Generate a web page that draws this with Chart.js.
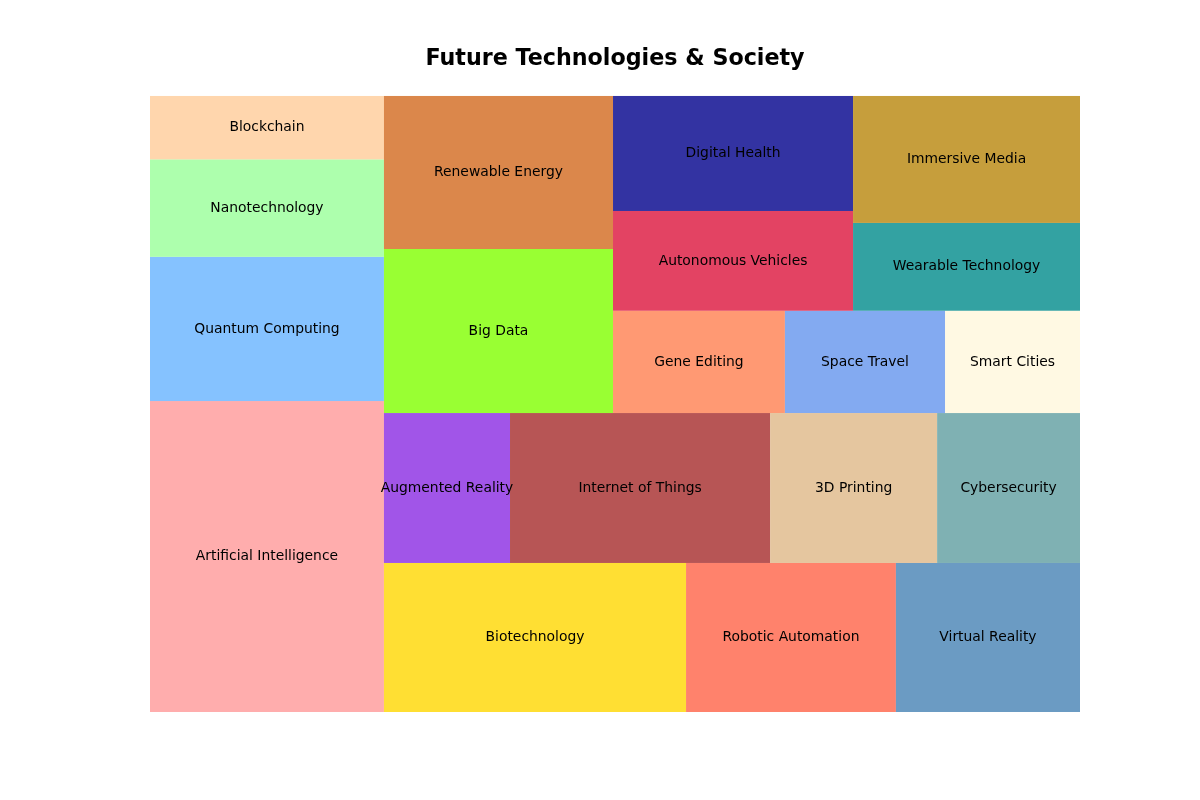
<!DOCTYPE html>
<html>
<head>
<meta charset="utf-8">
<script src="https://cdn.jsdelivr.net/npm/chart.js@4/dist/chart.umd.min.js"></script>
<style>
  html, body { margin: 0; padding: 0; background: #ffffff; }
  #wrap { width: 1200px; height: 800px; }
</style>
</head>
<body>
<div id="wrap"><canvas id="c" width="1200" height="800"></canvas></div>
<script>
// ---- Data (order as drawn by the squarify layout) ----
const categories = [
  "Artificial Intelligence", "Quantum Computing", "Nanotechnology", "Blockchain",
  "Biotechnology", "Robotic Automation", "Virtual Reality",
  "Augmented Reality", "Internet of Things", "3D Printing", "Cybersecurity",
  "Big Data", "Renewable Energy",
  "Gene Editing", "Space Travel", "Smart Cities",
  "Autonomous Vehicles", "Digital Health",
  "Wearable Technology", "Immersive Media"
];
const values = [
  12.70, 5.89, 3.98, 2.59,
  7.86, 5.46, 4.79,
  3.30, 6.81, 4.37, 3.74,
  6.56, 6.12,
  3.07, 2.86, 2.41,
  4.18, 4.82,
  3.48, 5.03
];
const baseColors = [
  "#FF9999", "#66B3FF", "#99FF99", "#FFCC99",
  "#FFD700", "#FF6347", "#4682B4",
  "#8A2BE2", "#A52A2A", "#DEB887", "#5F9EA0",
  "#7FFF00", "#D2691E",
  "#FF7F50", "#6495ED", "#FFF8DC",
  "#DC143C", "#00008B",
  "#008B8B", "#B8860B"
];
const fillAlpha = 0.8;
const chartTitle = "Future Technologies & Society";

// ---- squarify (same algorithm as the python 'squarify' package) ----
function normalizeSizes(sizes, dx, dy) {
  const total = sizes.reduce((a, b) => a + b, 0);
  return sizes.map(s => s * dx * dy / total);
}
function layoutrow(sizes, x, y, dx, dy) {
  const covered = sizes.reduce((a, b) => a + b, 0);
  const width = covered / dy;
  const rects = [];
  for (const s of sizes) { rects.push({x: x, y: y, dx: width, dy: s / width}); y += s / width; }
  return rects;
}
function layoutcol(sizes, x, y, dx, dy) {
  const covered = sizes.reduce((a, b) => a + b, 0);
  const height = covered / dx;
  const rects = [];
  for (const s of sizes) { rects.push({x: x, y: y, dx: s / height, dy: height}); x += s / height; }
  return rects;
}
function layout(sizes, x, y, dx, dy) {
  return dx >= dy ? layoutrow(sizes, x, y, dx, dy) : layoutcol(sizes, x, y, dx, dy);
}
function leftover(sizes, x, y, dx, dy) {
  const covered = sizes.reduce((a, b) => a + b, 0);
  if (dx >= dy) { const w = covered / dy; return [x + w, y, dx - w, dy]; }
  const h = covered / dx; return [x, y + h, dx, dy - h];
}
function worstRatio(sizes, x, y, dx, dy) {
  return Math.max(...layout(sizes, x, y, dx, dy).map(r => Math.max(r.dx / r.dy, r.dy / r.dx)));
}
function squarify(sizes, x, y, dx, dy) {
  if (sizes.length === 0) return [];
  if (sizes.length === 1) return layout(sizes, x, y, dx, dy);
  let i = 1;
  while (i < sizes.length && worstRatio(sizes.slice(0, i), x, y, dx, dy) >= worstRatio(sizes.slice(0, i + 1), x, y, dx, dy)) i++;
  const current = sizes.slice(0, i), remaining = sizes.slice(i);
  const [lx, ly, ldx, ldy] = leftover(current, x, y, dx, dy);
  return layout(current, x, y, dx, dy).concat(squarify(remaining, lx, ly, ldx, ldy));
}

const NORM = 100;
const rects = squarify(normalizeSizes(values, NORM, NORM), 0, 0, NORM, NORM);

function withAlpha(hex, a) {
  const r = parseInt(hex.slice(1, 3), 16), g = parseInt(hex.slice(3, 5), 16), b = parseInt(hex.slice(5, 7), 16);
  return `rgba(${r},${g},${b},${a})`;
}

const LABEL_SIZE = 13.89;
const treemapPlugin = {
  id: 'treemapRects',
  beforeDatasetsDraw(chart) {
    const ctx = chart.ctx;
    const xs = chart.scales.x, ys = chart.scales.y;
    ctx.save();
    rects.forEach((r, i) => {
      const x0 = xs.getPixelForValue(r.x), x1 = xs.getPixelForValue(r.x + r.dx);
      const y0 = ys.getPixelForValue(r.y), y1 = ys.getPixelForValue(r.y + r.dy);
      ctx.fillStyle = withAlpha(baseColors[i], fillAlpha);
      ctx.fillRect(Math.min(x0, x1), Math.min(y0, y1), Math.abs(x1 - x0), Math.abs(y1 - y0));
    });
    ctx.fillStyle = '#000000';
    ctx.font = LABEL_SIZE + 'px "DejaVu Sans"';
    ctx.textAlign = 'center';
    ctx.textBaseline = 'alphabetic';
    rects.forEach((r, i) => {
      const cx = xs.getPixelForValue(r.x + r.dx / 2);
      const cy = ys.getPixelForValue(r.y + r.dy / 2);
      ctx.fillText(categories[i], cx, cy + 0.262 * LABEL_SIZE);
    });
    ctx.restore();
  }
};

new Chart(document.getElementById('c'), {
  type: 'scatter',
  data: {
    datasets: [{
      label: 'Technologies',
      data: rects.map((r, i) => ({x: r.x + r.dx / 2, y: r.y + r.dy / 2, label: categories[i], v: values[i]})),
      pointRadius: 0,
      pointHoverRadius: 0
    }]
  },
  options: {
    responsive: false,
    animation: false,
    devicePixelRatio: 1,
    layout: { padding: { left: 150, right: 120, top: 0, bottom: 88 } },
    scales: {
      x: { type: 'linear', min: 0, max: NORM, display: false },
      y: { type: 'linear', min: 0, max: NORM, display: false }
    },
    plugins: {
      legend: { display: false },
      tooltip: { enabled: false },
      title: {
        display: true,
        text: chartTitle,
        color: '#000000',
        font: { family: 'DejaVu Sans', size: 22.22, weight: 'bold', lineHeight: 1.2 },
        padding: { top: 46.4, bottom: 22.9 }
      }
    }
  },
  plugins: [treemapPlugin]
});
</script>
</body>
</html>
